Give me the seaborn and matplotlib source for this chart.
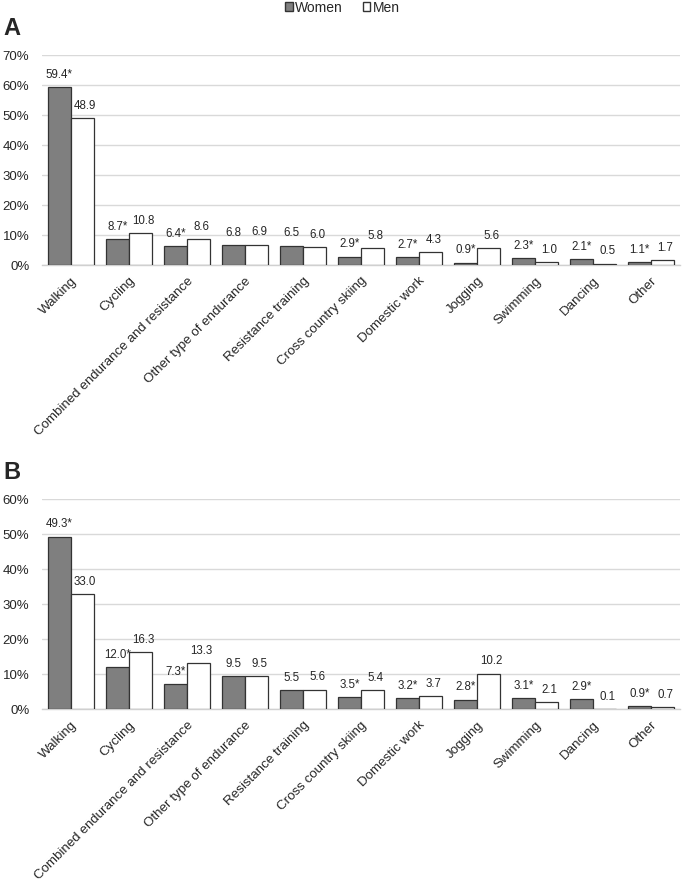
import matplotlib
matplotlib.use("Agg")
import matplotlib.pyplot as plt
import seaborn as sns
import pandas as pd
from matplotlib.patches import Patch

categories = ["Walking", "Cycling", "Combined endurance and resistance",
              "Other type of endurance", "Resistance training", "Cross country skiing",
              "Domestic work", "Jogging", "Swimming", "Dancing", "Other"]

women_a = [59.4, 8.7, 6.4, 6.8, 6.5, 2.9, 2.7, 0.9, 2.3, 2.1, 1.1]
men_a = [48.9, 10.8, 8.6, 6.9, 6.0, 5.8, 4.3, 5.6, 1.0, 0.5, 1.7]
star_a = [True, True, True, False, False, True, True, True, True, True, True]

women_b = [49.3, 12.0, 7.3, 9.5, 5.5, 3.5, 3.2, 2.8, 3.1, 2.9, 0.9]
men_b = [33.0, 16.3, 13.3, 9.5, 5.6, 5.4, 3.7, 10.2, 2.1, 0.1, 0.7]
star_b = [True, True, True, False, False, True, True, True, True, True, True]

yticks_a = [0, 10, 20, 30, 40, 50, 60, 70]
yticks_b = [0, 10, 20, 30, 40, 50, 60]

sns.set_theme(style="white")
plt.rcParams["font.family"] = ["Liberation Sans", "DejaVu Sans"]

TXT = "#262626"
fig = plt.figure(figsize=(6.85, 8.90), dpi=100)
ax_a = fig.add_axes([0.061, 0.702, 0.932, 0.236])
ax_b = fig.add_axes([0.061, 0.203, 0.932, 0.236])

palette = {"Women": "#7f7f7f", "Men": "#ffffff"}


def draw(ax, women, men, stars, yticks):
    df = pd.DataFrame({
        "Activity": categories * 2,
        "Sex": ["Women"] * len(categories) + ["Men"] * len(categories),
        "Value": women + men,
    })
    sns.barplot(data=df, x="Activity", y="Value", hue="Sex", palette=palette,
                order=categories, hue_order=["Women", "Men"], ax=ax,
                edgecolor="#333333", linewidth=0.9, width=0.8, legend=False,
                errorbar=None, zorder=3)
    for i, cont in enumerate(ax.containers):
        for j, bar in enumerate(cont):
            v = bar.get_height()
            if i == 0:
                txt = f"{v:.1f}" + ("*" if stars[j] else "")
                dx = 0
            else:
                txt = f"{v:.1f}"
                dx = 2
            ax.annotate(txt, (bar.get_x() + bar.get_width() / 2, v),
                        xytext=(dx, 4.5), textcoords="offset points",
                        ha="center", va="bottom", fontsize=8.3, color=TXT)
    ax.set_ylim(0, yticks[-1])
    ax.set_yticks(yticks)
    ax.set_yticklabels([f"{t}%" for t in yticks], fontsize=9.5, color=TXT)
    ax.set_xlim(-0.5, len(categories) - 0.5)
    ax.set_xticks(range(len(categories)))
    ax.set_xticklabels(categories, rotation=45, ha="right", va="top",
                       rotation_mode="anchor", fontsize=9.6, color=TXT)
    ax.set_xlabel("")
    ax.set_ylabel("")
    ax.grid(axis="y", color="#d9d9d9", linewidth=1, zorder=0)
    ax.set_axisbelow(True)
    for s in ["top", "right", "left"]:
        ax.spines[s].set_visible(False)
    ax.spines["bottom"].set_color("#d0d0d0")
    ax.spines["bottom"].set_linewidth(1)
    ax.tick_params(axis="y", length=0, pad=9)
    ax.tick_params(axis="x", length=0, pad=7)


draw(ax_a, women_a, men_a, star_a, yticks_a)
draw(ax_b, women_b, men_b, star_b, yticks_b)

fig.text(0.005, 0.968, "A", fontsize=17, fontweight="bold", va="center", ha="left")
fig.text(0.005, 0.469, "B", fontsize=17, fontweight="bold", va="center", ha="left")

handles = [Patch(facecolor="#7f7f7f", edgecolor="#333333", label="Women"),
           Patch(facecolor="#ffffff", edgecolor="#333333", label="Men")]
fig.legend(handles=handles, loc="center", bbox_to_anchor=(0.5, 0.9915), ncol=2,
           frameon=False, fontsize=10, handlelength=0.55, handleheight=0.55,
           handletextpad=0.2, columnspacing=1.4, borderpad=0)

fig.savefig("out.png", dpi=100)
